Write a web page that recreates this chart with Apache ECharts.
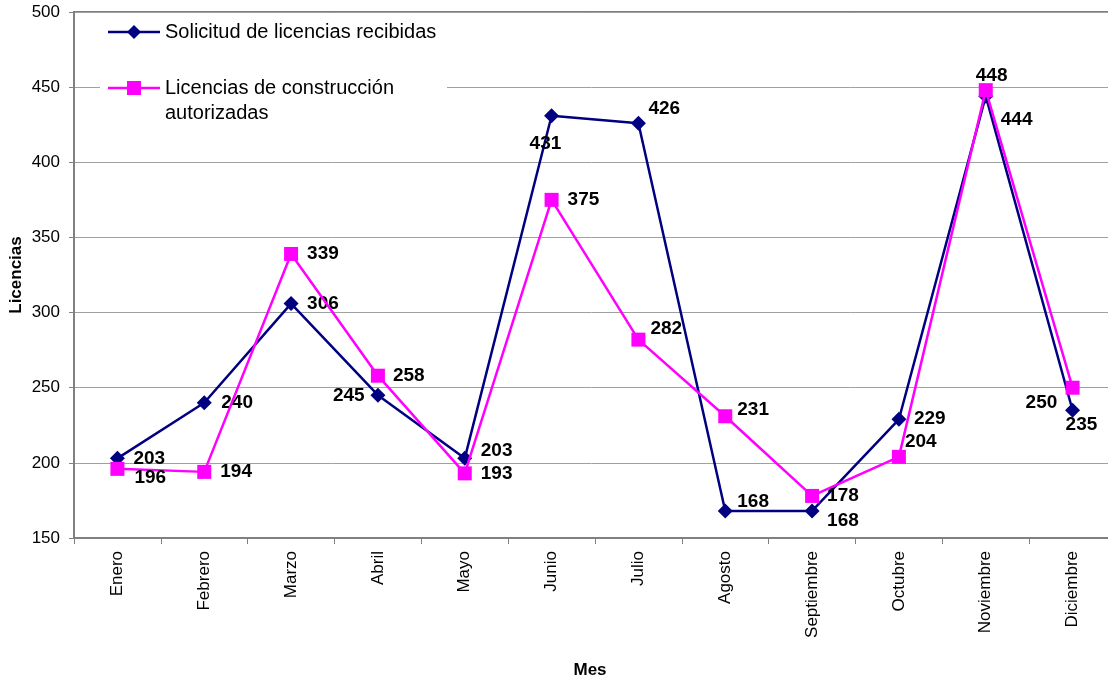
<!DOCTYPE html>
<html>
<head>
<meta charset="utf-8">
<script src="https://cdn.jsdelivr.net/npm/echarts@6/dist/echarts.min.js"></script>
<style>html,body{margin:0;padding:0;background:#fff;overflow:hidden;}#c{width:1108px;height:681px;}</style>
</head>
<body>
<div id="c"></div>
<script>
var categories = ['Enero','Febrero','Marzo','Abril','Mayo','Junio','Julio','Agosto','Septiembre','Octubre','Noviembre','Diciembre'];
var solicitudes = [203, 240, 306, 245, 203, 431, 426, 168, 168, 229, 444, 235];
var autorizadas = [196, 194, 339, 258, 193, 375, 282, 231, 178, 204, 448, 250];
var seriesNames = ['Solicitud de licencias recibidas', 'Licencias de construcción\nautorizadas'];
var yTicks = {min: 150, max: 500, interval: 50};

// label placement (pixel offsets of text left / middle from each point)
var offSolicitud = [[16,0],[17,0],[16,0],[-45,1],[16,-8],[-22,28],[10,-14],[12,-9],[15,10],[15,-1],[15,24],[-7,15]];
var offAutorizadas = [[17,9],[16,0],[16,0],[15,0],[16,0],[16,0],[12,-11],[12,-7],[15,0],[6,-15],[-10,-14],[-47,15]];

var FONT = '"Liberation Sans", Arial, sans-serif';
var NAVY = '#000080', MAG = '#FF00FF';

function build(vals, offs) {
  return vals.map(function (v, i) {
    return {value: v, label: {offset: offs[i]}};
  });
}
var labelBase = {show: true, position: 'inside', align: 'left', verticalAlign: 'middle',
  color: '#000', fontSize: 19, fontWeight: 'bold', fontFamily: FONT};

var chart = echarts.init(document.getElementById('c'), null, {renderer: 'canvas'});
chart.setOption({
  animation: false,
  backgroundColor: '#fff',
  textStyle: {fontFamily: FONT},
  grid: {left: 74, top: 12, width: 1042, height: 526, containLabel: false, outerBoundsMode: 'none',
    show: true, borderColor: '#808080', borderWidth: 2, backgroundColor: 'transparent'},
  xAxis: {
    type: 'category', data: categories, boundaryGap: true,
    axisLine: {lineStyle: {color: '#808080', width: 2}},
    axisTick: {show: true, interval: 0, length: 6, lineStyle: {color: '#808080', width: 1}},
    axisLabel: {rotate: 90, interval: 0, fontSize: 17, color: '#000', margin: 13, fontFamily: FONT},
    name: 'Mes', nameLocation: 'middle', nameGap: 124, nameMoveOverlap: false,
    nameTextStyle: {fontSize: 17, fontWeight: 'bold', color: '#000', fontFamily: FONT, padding: [0, 10, 0, 0]}
  },
  yAxis: {
    type: 'value', min: yTicks.min, max: yTicks.max, interval: yTicks.interval,
    axisLine: {show: true, lineStyle: {color: '#808080', width: 2}},
    axisTick: {show: true, length: 5, lineStyle: {color: '#808080', width: 1}},
    splitLine: {show: true, lineStyle: {color: '#A0A0A0', width: 1}},
    axisLabel: {fontSize: 17, color: '#000', margin: 14, fontFamily: FONT},
    name: 'Licencias', nameLocation: 'middle', nameRotate: 90, nameGap: 49, nameMoveOverlap: false,
    nameTextStyle: {fontSize: 17, fontWeight: 'bold', color: '#000', fontFamily: FONT}
  },
  series: [
    {
      name: seriesNames[0], type: 'line', data: build(solicitudes, offSolicitud),
      symbol: 'diamond', symbolSize: 15, z: 3,
      lineStyle: {color: NAVY, width: 2.5}, itemStyle: {color: NAVY},
      label: labelBase
    },
    {
      name: seriesNames[1], type: 'line', data: build(autorizadas, offAutorizadas),
      symbol: 'rect', symbolSize: 14, z: 4,
      lineStyle: {color: MAG, width: 2.5}, itemStyle: {color: MAG},
      label: labelBase
    }
  ],
  graphic: [
    {type: 'rect', z: 1, shape: {x: 100, y: 13, width: 347, height: 117}, style: {fill: '#fff'}},
    {type: 'line', z: 2, shape: {x1: 108, y1: 32, x2: 160, y2: 32}, style: {stroke: NAVY, lineWidth: 2.5}},
    {type: 'polygon', z: 2, shape: {points: [[134,25],[141,32],[134,39],[127,32]]}, style: {fill: NAVY}},
    {type: 'text', z: 2, x: 165, y: 32, style: {text: seriesNames[0], font: '20px ' + FONT, fill: '#000', verticalAlign: 'middle'}},
    {type: 'line', z: 2, shape: {x1: 108, y1: 88, x2: 160, y2: 88}, style: {stroke: MAG, lineWidth: 2.5}},
    {type: 'rect', z: 2, shape: {x: 127, y: 81, width: 14, height: 14}, style: {fill: MAG}},
    {type: 'text', z: 2, x: 165, y: 75.5, style: {text: seriesNames[1], font: '20px ' + FONT, fill: '#000', verticalAlign: 'top', lineHeight: 25}}
  ]
});
</script>
</body>
</html>
